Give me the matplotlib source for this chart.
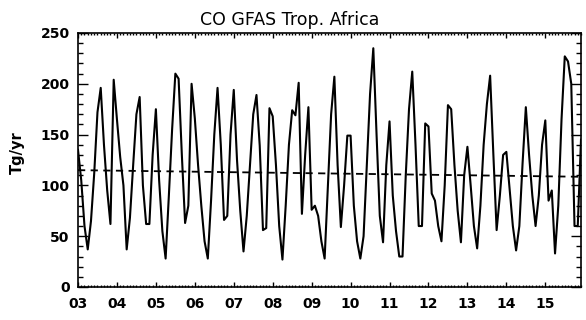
import numpy as np
import matplotlib
matplotlib.use("Agg")
import matplotlib.pyplot as plt
from matplotlib.ticker import MultipleLocator

# monthly CO emissions (Tg/yr), Jan 2003 .. Dec 2015
co_2003 = [135, 105, 60, 37, 65, 112, 172, 196, 140, 95, 62, 204]
co_2004 = [165, 128, 100, 37, 68, 120, 170, 187, 100, 62, 62, 130]
co_2005 = [175, 105, 55, 28, 90, 155, 210, 205, 130, 63, 80, 200]
co_2006 = [166, 120, 80, 45, 28, 85, 150, 196, 140, 66, 70, 150]
co_2007 = [194, 125, 75, 35, 70, 120, 170, 189, 139, 56, 58, 176]
co_2008 = [168, 120, 60, 27, 80, 140, 174, 169, 201, 72, 130, 177]
co_2009 = [76, 80, 70, 45, 28, 100, 170, 207, 120, 59, 100, 149]
co_2010 = [149, 80, 45, 28, 50, 120, 190, 235, 150, 70, 44, 120]
co_2011 = [163, 90, 55, 30, 30, 110, 175, 212, 140, 60, 60, 161]
co_2012 = [158, 92, 85, 60, 45, 100, 179, 175, 120, 75, 44, 110]
co_2013 = [138, 100, 60, 38, 80, 140, 180, 208, 130, 56, 90, 130]
co_2014 = [133, 96, 60, 36, 60, 122, 177, 130, 90, 60, 90, 140]
co_2015 = [164, 85, 95, 33, 80, 165, 227, 222, 200, 60, 60, 145]

years = ["03", "04", "05", "06", "07", "08", "09", "10", "11", "12", "13", "14", "15"]
trend_start = 115.0
trend_end = 108.5

co = np.array(co_2003 + co_2004 + co_2005 + co_2006 + co_2007 + co_2008 + co_2009
              + co_2010 + co_2011 + co_2012 + co_2013 + co_2014 + co_2015, dtype=float)
t = np.arange(len(co)) / 12.0

fig = plt.figure(figsize=(5.86, 3.2), dpi=100)
ax = fig.add_axes([78/586, 33/320, 503/586, 254/320])

ax.plot(t, co, color="black", lw=1.5)
ax.plot([t[0], t[-1]], [trend_start, trend_end], color="black", lw=1.3, dashes=(4, 3))

ax.set_xlim(t[0], t[-1])
ax.set_ylim(0, 250)
ax.set_xticks(np.arange(len(years)))
ax.set_xticklabels(years)
ax.xaxis.set_minor_locator(MultipleLocator(1/12))
ax.yaxis.set_major_locator(MultipleLocator(50))
ax.yaxis.set_minor_locator(MultipleLocator(10))

ax.tick_params(which="both", direction="in", top=True, right=True, width=1.0)
ax.tick_params(axis="y", which="major", length=7.2, pad=6, labelsize=10)
ax.tick_params(axis="y", which="minor", length=3.6)
ax.tick_params(axis="x", which="major", length=3.6, pad=7, labelsize=10)
ax.tick_params(axis="x", which="minor", length=1.5)
for lab in ax.get_xticklabels() + ax.get_yticklabels():
    lab.set_fontweight("bold")
for s in ax.spines.values():
    s.set_linewidth(1.2)

fig.text(0.495, 1 - 20/320, "CO GFAS Trop. Africa", ha="center", va="center", fontsize=12.5)
fig.text(17/586, 1 - 153/320, "Tg/yr", rotation=90, ha="center", va="center",
         fontsize=10.5, fontweight="bold")

fig.savefig("out.png", dpi=100)
